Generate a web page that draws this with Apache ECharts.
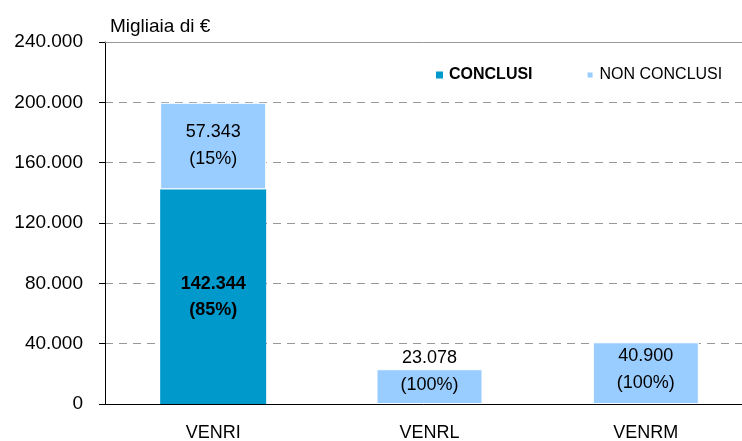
<!DOCTYPE html>
<html>
<head>
<meta charset="utf-8">
<script src="https://cdn.jsdelivr.net/npm/echarts@6/dist/echarts.min.js"></script>
<style>
  html, body { margin: 0; padding: 0; background: #fff; }
  #chart { width: 742px; height: 441px; }
</style>
</head>
<body>
<div id="chart"></div>
<script>
// dati (migliaia di euro)
var categories = ['VENRI', 'VENRL', 'VENRM']
var conclusi = [142344, null, null]
var nonConclusi = [57343, 23078, 40900]
var pctConclusi = ['85%', null, null]
var pctNonConclusi = ['15%', '100%', '100%']
var yTicks = [0, 40000, 80000, 120000, 160000, 200000, 240000]

var font = 'Liberation Sans, Arial, sans-serif'

// 142344 -> "142.344"
function fmt(v) {
	return String(v).replace(/\B(?=(\d{3})+(?!\d))/g, '.')
}

// spostamento verticale etichette (come nell'originale)
var offNon = [[0, -1], [0, -15], [0, -4]]

// asse solo per le tacche centrali sotto le barre
function centerTicks(inside, len) {
	return {
		type: 'category',
		position: 'bottom',
		data: categories,
		axisLine: { show: false },
		axisLabel: { show: false },
		axisTick: { alignWithLabel: true, inside: inside, length: len, lineStyle: { color: '#333' } }
	}
}

var chart = echarts.init(document.getElementById('chart'))

var option = {}
option.animation = false

option.title = {
	text: 'Migliaia di €',
	left: 105,
	top: 12,
	textStyle: { fontFamily: font, fontSize: 19, fontWeight: 'normal', color: '#000' }
}

option.legend = {
	left: 431,
	top: 62,
	itemWidth: 7,
	itemHeight: 7,
	itemGap: 53,
	icon: 'rect',
	textStyle: { fontFamily: font, fontSize: 16, color: '#000', padding: [0, 0, 0, 1] },
	data: [{ name: 'CONCLUSI', textStyle: { fontWeight: 'bold' } }, 'NON CONCLUSI']
}

// l'area del grafico esce un po' a destra, come nell'originale
option.grid = { left: 105, width: 649, top: 42, bottom: 37, outerBoundsMode: 'none' }

option.xAxis = [{
	type: 'category',
	data: categories,
	axisLine: { lineStyle: { color: '#000', width: 1 } },
	axisTick: { length: 6, lineStyle: { color: '#000' } },
	axisLabel: { margin: 20, fontFamily: font, fontSize: 18, color: '#000' }
}, {
	type: 'category',
	position: 'top',
	data: categories,
	axisLine: { lineStyle: { color: '#999' } },
	axisTick: { show: false },
	axisLabel: { show: false }
}, centerTicks(false, 5), centerTicks(true, 4)]

option.yAxis = {
	type: 'value',
	min: yTicks[0],
	max: yTicks[yTicks.length - 1],
	interval: 40000,
	axisLine: { show: true, lineStyle: { color: '#000' } },
	axisTick: { show: true, length: 6, lineStyle: { color: '#000' } },
	axisLabel: {
		margin: 22,
		fontFamily: font, fontSize: 19, color: '#000',
		formatter: function(v) { return fmt(v) }
	},
	splitLine: { show: true, lineStyle: { color: '#999', type: [8, 6] } }
}

option.series = [{
	name: 'CONCLUSI',
	type: 'bar',
	stack: 'tot',
	barWidth: '49%',
	itemStyle: { color: '#0099CC' },
	label: {
		show: true,
		position: 'inside',
		fontFamily: font, fontSize: 18, fontWeight: 'bold', color: '#000',
		lineHeight: 26,
		formatter: function(p) {
			if (p.value == null) return ''
			return fmt(p.value) + '\n(' + pctConclusi[p.dataIndex] + ')'
		}
	},
	data: conclusi
}, {
	name: 'NON CONCLUSI',
	type: 'bar',
	stack: 'tot',
	barWidth: '49%',
	itemStyle: { color: '#99CCFF', borderColor: '#fff', borderWidth: 1 },
	label: {
		show: true,
		position: 'inside',
		fontFamily: font, fontSize: 18, color: '#000',
		lineHeight: 27,
		formatter: function(p) {
			return fmt(p.value) + '\n(' + pctNonConclusi[p.dataIndex] + ')'
		}
	},
	data: nonConclusi.map(function(v, i) {
		return { value: v, label: { offset: offNon[i] } }
	})
}]

chart.setOption(option)
</script>
</body>
</html>
